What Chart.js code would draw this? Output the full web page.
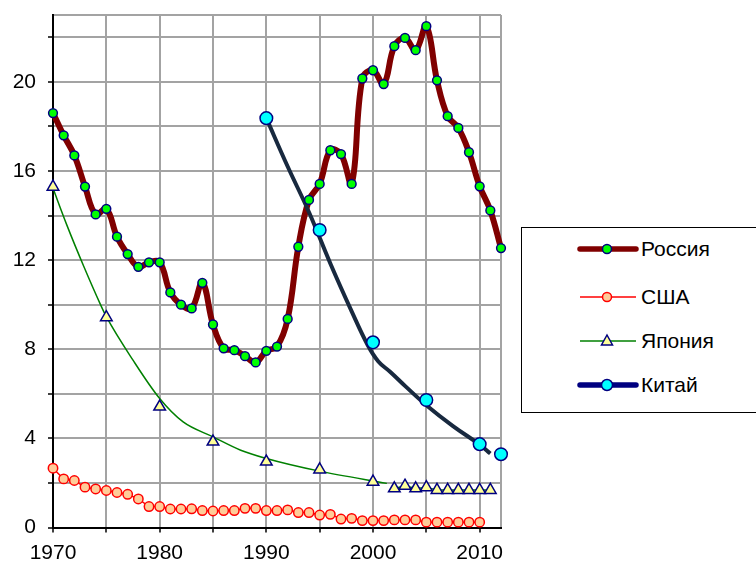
<!DOCTYPE html>
<html lang="ru">
<head>
    <meta charset="UTF-8">
    <title>Россия, США, Япония, Китай</title>
    <script src="https://cdn.jsdelivr.net/npm/chart.js"></script>
    <style>
        html, body { margin: 0; padding: 0; background: #fff; overflow: hidden; }
        #wrap { position: relative; width: 756px; height: 563px; }
        #legend {
            position: absolute; left: 521px; top: 227px; width: 260px; height: 184px;
            border: 1.5px solid #000; background: #fff;
            font-family: "Liberation Sans", Arial, sans-serif; font-size: 21px; color: #000;
        }
        .row { position: absolute; left: 55px; height: 30px; display: flex; align-items: center; }
        .row svg { width: 62px; height: 20px; margin-right: 2px; }
    </style>
</head>
<body>
<div id="wrap">
    <canvas id="chart" width="756" height="563"></canvas>

    <!-- legend: line + marker like the original -->
    <div id="legend">
        <div class="row" style="top:6px">
            <svg viewBox="0 0 62 20"><line x1="3" y1="10" x2="59" y2="10" stroke="#800000" stroke-width="5.5" stroke-linecap="round"/>
                <circle cx="30" cy="10" r="4.5" fill="#00ff00" stroke="#000080" stroke-width="1.5"/></svg>
            <span>Россия</span>
        </div>
        <div class="row" style="top:54px">
            <svg viewBox="0 0 62 20"><line x1="3" y1="10" x2="59" y2="10" stroke="#ff0000" stroke-width="1.5"/>
                <circle cx="30" cy="10" r="4.5" fill="#ffcc99" stroke="#ff0000" stroke-width="1.5"/></svg>
            <span>США</span>
        </div>
        <div class="row" style="top:98px">
            <svg viewBox="0 0 62 20"><line x1="3" y1="10" x2="59" y2="10" stroke="#008000" stroke-width="1.5"/>
                <polygon points="30,4 35.5,14 24.5,14" fill="#ffff99" stroke="#000080" stroke-width="1.5"/></svg>
            <span>Япония</span>
        </div>
        <div class="row" style="top:142px">
            <svg viewBox="0 0 62 20"><line x1="3" y1="10" x2="59" y2="10" stroke="#000080" stroke-width="5.5" stroke-linecap="round"/>
                <circle cx="30" cy="10" r="5.5" fill="#00ffff" stroke="#000080" stroke-width="1.5"/></svg>
            <span>Китай</span>
        </div>
    </div>
</div>

<script>
    const years = [1970, 1971, 1972, 1973, 1974, 1975, 1976, 1977, 1978, 1979,
                   1980, 1981, 1982, 1983, 1984, 1985, 1986, 1987, 1988, 1989,
                   1990, 1991, 1992, 1993, 1994, 1995, 1996, 1997, 1998, 1999,
                   2000, 2001, 2002, 2003, 2004, 2005, 2006, 2007, 2008, 2009,
                   2010, 2011, 2012];

    const russia = [18.6, 17.6, 16.7, 15.3, 14.05, 14.3, 13.05, 12.27, 11.7, 11.9,
                    11.9, 10.55, 10.0, 9.83, 10.98, 9.11, 8.04, 7.96, 7.69, 7.41,
                    7.93, 8.12, 9.36, 12.6, 14.7, 15.42, 16.93, 16.76, 15.42, 20.15,
                    20.52, 19.9, 21.6, 21.97, 21.42, 22.5, 20.07, 18.46, 17.93, 16.84,
                    15.31, 14.23, 12.54];

    const usa = [2.66, 2.18, 2.11, 1.81, 1.73, 1.66, 1.57, 1.49, 1.28, 0.94,
                 0.94, 0.83, 0.83, 0.84, 0.76, 0.74, 0.76, 0.76, 0.86, 0.86,
                 0.76, 0.76, 0.79, 0.67, 0.67, 0.56, 0.59, 0.38, 0.41, 0.31,
                 0.31, 0.31, 0.34, 0.34, 0.34, 0.24, 0.24, 0.24, 0.24, 0.24,
                 0.24, null, null];

    const japan = [15.29, null, null, null, null, 9.43, null, null, null, null,
                   5.42, null, null, null, null, 3.85, null, null, null, null,
                   2.95, null, null, null, null, 2.6, null, null, null, null,
                   2.05, null, 1.75, 1.87, 1.75, 1.8, 1.68, 1.68, 1.68, 1.68,
                   1.68, 1.68, null];

    const china = [null, null, null, null, null, null, null, null, null, null,
                   null, null, null, null, null, null, null, null, null, null,
                   18.37, null, null, null, null, 13.35, null, null, null, null,
                   8.31, null, null, null, null, 5.72, null, null, null, null,
                   3.74, null, 3.29];

    // trend lines as drawn on the picture
    const japanTrendYears = [1970, 1971.3, 1972.9, 1974.4, 1975, 1977.5, 1980, 1982.2, 1985, 1987.6, 1990, 1995, 2001.3];
    const japanTrend      = [15.22, 13.57, 11.7, 10.06, 9.46, 7.51, 5.79, 4.74, 4.07, 3.47, 3.1, 2.53, 1.98];

    const chinaTrendYears = [1990, 1992, 1994, 1996, 1998, 1999.5, 2000.5, 2001.6, 2003.1, 2005, 2007.5, 2010, 2011];
    const chinaTrend      = [18.37, 16.2, 14.15, 11.85, 9.7, 8.19, 7.45, 6.99, 6.31, 5.49, 4.55, 3.72, 3.32];

    const xTicks = [1970, 1975, 1980, 1985, 1990, 1995, 2000, 2005, 2010, 2012];
    const yTicks = [0, 2, 4, 6, 8, 10, 12, 14, 16, 18, 20, 22, 23];

    const pts = (xs, ys) => xs.map((x, i) => ({ x: x, y: ys[i] }));
    const gridGray = '#a3a3a3';
    const font = { family: '"Liberation Sans", Arial, sans-serif', size: 21 };

    const ctx = document.getElementById('chart').getContext('2d');
    const chart = new Chart(ctx, {
        type: 'line',
        data: {
            datasets: [
                {   // drawn last (top)
                    label: 'Китай', data: pts(years, china), showLine: false,
                    pointRadius: 6.3, pointHoverRadius: 6.3, pointBackgroundColor: '#00ffff',
                    pointBorderColor: '#000080', pointBorderWidth: 1.5, borderColor: '#000080', clip: false
                },
                {
                    label: 'Россия (маркеры)', data: pts(years, russia), showLine: false,
                    pointRadius: 4.4, pointHoverRadius: 4.4, pointBackgroundColor: '#00ff00',
                    pointBorderColor: '#000080', pointBorderWidth: 1.5, clip: false
                },
                {
                    label: 'Китай тренд', data: pts(chinaTrendYears, chinaTrend),
                    borderColor: '#18293f', borderWidth: 4, pointRadius: 0,
                    tension: 0.4, borderCapStyle: 'butt', clip: false
                },
                {
                    label: 'Россия', data: pts(years, russia),
                    borderColor: '#800000', borderWidth: 6, pointRadius: 0,
                    tension: 0.4, borderCapStyle: 'round', borderJoinStyle: 'round', clip: false
                },
                {
                    label: 'Япония', data: pts(years, japan), spanGaps: false,
                    borderColor: '#008000', borderWidth: 1.5,
                    pointStyle: 'triangle', pointRadius: 6.7, pointHoverRadius: 6.7,
                    pointBackgroundColor: '#ffff99', pointBorderColor: '#000080', pointBorderWidth: 1.5, clip: false
                },
                {
                    label: 'США', data: pts(years, usa),
                    borderColor: '#ff0000', borderWidth: 1.5,
                    pointRadius: 4.7, pointHoverRadius: 4.7, pointBackgroundColor: '#ffcc99',
                    pointBorderColor: '#ff0000', pointBorderWidth: 1.5, clip: false
                },
                {
                    label: 'Япония тренд', data: pts(japanTrendYears, japanTrend),
                    borderColor: '#008000', borderWidth: 1.5, pointRadius: 0,
                    cubicInterpolationMode: 'monotone', clip: false
                }
            ]
        },
        options: {
            responsive: false,
            animation: false,
            devicePixelRatio: 1,
            layout: { padding: { top: 15, right: 255, left: 0, bottom: 0 } },
            plugins: { legend: { display: false }, tooltip: { enabled: false } },
            events: [],
            scales: {
                x: {
                    type: 'linear', min: 1970, max: 2012,
                    afterBuildTicks: s => { s.ticks = xTicks.map(v => ({ value: v })); },
                    afterFit: s => { s.height = 35.5; s.paddingLeft = 0; s.paddingRight = 0; },
                    border: { display: true, color: '#000', width: 2 },
                    grid: {
                        color: c => c.tick && c.tick.value === 1970 ? 'rgba(0,0,0,0)' : gridGray,
                        lineWidth: 2, tickLength: 5,
                        tickColor: c => c.tick && c.tick.value === 2012 ? 'rgba(0,0,0,0)' : '#000',
                        tickWidth: 1.5
                    },
                    ticks: {
                        autoSkip: false, maxRotation: 0, padding: 8, color: '#000', font: font,
                        callback: v => v % 10 === 0 ? String(v) : ''
                    }
                },
                y: {
                    min: 0, max: 23,
                    afterBuildTicks: s => { s.ticks = yTicks.map(v => ({ value: v })); },
                    afterFit: s => { s.width = 53; s.paddingTop = 0; s.paddingBottom = 0; },
                    border: { display: true, color: '#000', width: 2 },
                    grid: {
                        color: c => c.tick && c.tick.value === 0 ? 'rgba(0,0,0,0)' : gridGray,
                        lineWidth: 2, tickLength: 5,
                        tickColor: c => c.tick && c.tick.value === 23 ? 'rgba(0,0,0,0)' : '#000',
                        tickWidth: 1.5
                    },
                    ticks: {
                        autoSkip: false, padding: 12, color: '#000', font: font,
                        callback: v => v % 4 === 0 ? String(v) : ''
                    }
                }
            }
        }
    });
</script>
</body>
</html>
